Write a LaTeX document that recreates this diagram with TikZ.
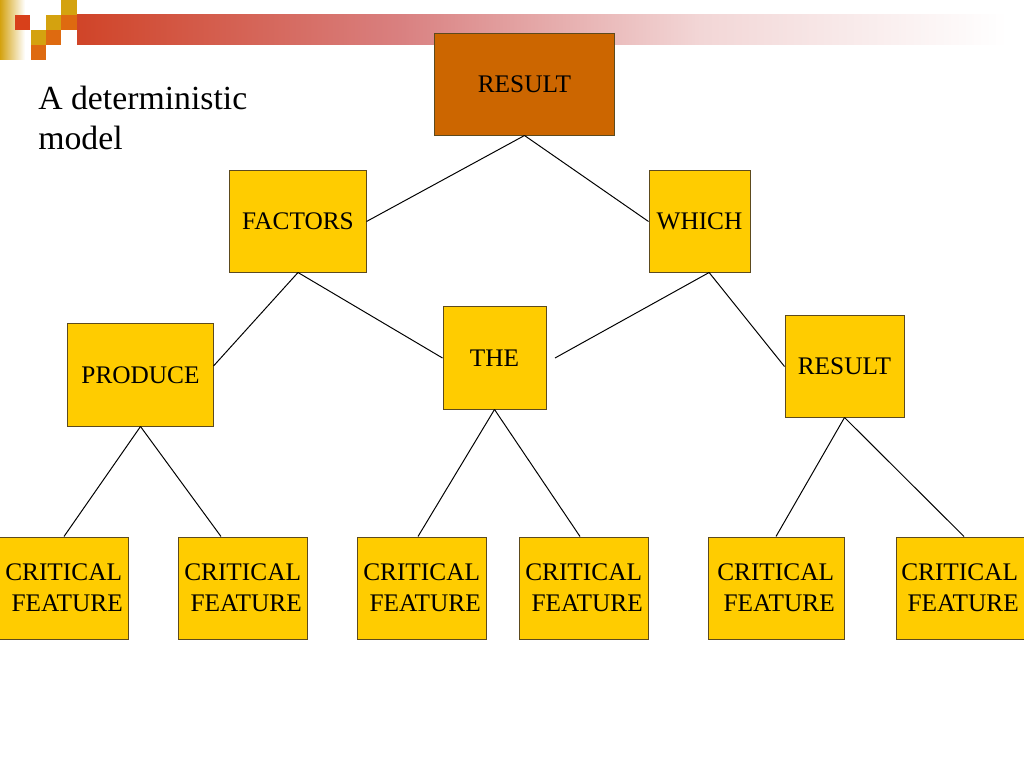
\documentclass[tikz,border=0pt]{standalone}
\usepackage{fontspec}
\setmainfont{Liberation Serif}
\usepackage{tikz}

\definecolor{boxyellow}{HTML}{FFCC00}
\definecolor{boxorange}{HTML}{CC6600}
\definecolor{boxedge}{HTML}{5C4A1E}
\definecolor{decogold}{HTML}{D4A20F}
\definecolor{decoorange}{HTML}{DE6A10}
\definecolor{decored}{HTML}{D8401A}
\definecolor{barred}{HTML}{D04428}
\definecolor{barpink}{HTML}{D98080}
\definecolor{barlight}{HTML}{F2D6D6}

\tikzset{
  wordbox/.style={draw=boxedge, line width=0.7pt, fill=boxyellow, inner sep=0pt,
    minimum height=2.525cm, font=\fontsize{18}{21.8}\selectfont},
  featbox/.style={wordbox, minimum width=3.2cm, minimum height=2.55cm, align=left},
  link/.style={draw=black, line width=0.7pt}
}

\begin{document}
\begin{tikzpicture}[x=0.025cm, y=-0.025cm]
\useasboundingbox (0,0) rectangle (1024,768);

% corner decoration
\shade[left color=decogold, right color=white] (0,0) rectangle (25,60);
\shade[left color=barred, right color=barpink] (77,15) rectangle (400,45);
\shade[left color=barpink, right color=barlight] (400,15) rectangle (700,45);
\shade[left color=barlight, right color=white] (700,15) rectangle (1007,45);
\fill[decored] (15,15) rectangle (30,30);
\fill[decogold] (61,0) rectangle (77,15);
\fill[decogold] (46,15) rectangle (61,30);
\fill[decoorange] (61,15) rectangle (77,30);
\fill[decogold] (31,30) rectangle (46,45);
\fill[decoorange] (46,30) rectangle (61,45);
\fill[decoorange] (31,45) rectangle (46,60);

\node[anchor=west, align=left, inner sep=0pt, font=\fontsize{24}{29}\selectfont]
  (title) at (38,118) {A deterministic\\model};

% tree
\node[wordbox, fill=boxorange, minimum width=4.475cm] (result) at (524.5,84.5) {\raisebox{-2pt}{RESULT}};
\node[wordbox, minimum width=3.4cm] (factors) at (298,221.5) {FACTORS};
\node[wordbox, minimum width=2.525cm] (which) at (699.5,221.5) {WHICH};
\node[wordbox, minimum width=3.625cm, minimum height=2.55cm] (produce) at (140.5,375) {PRODUCE};
\node[wordbox, minimum width=2.575cm, minimum height=2.55cm] (the) at (494.5,358) {THE};
\node[wordbox, minimum width=2.975cm] (resultb) at (844.5,366.5) {RESULT};

\node[featbox] (cfa) at (64,588) {CRITICAL\\\mbox{} FEATURE};
\node[featbox] (cfb) at (243,588) {CRITICAL\\\mbox{} FEATURE};
\node[featbox] (cfc) at (422,588) {CRITICAL\\\mbox{} FEATURE};
\node[featbox] (cfd) at (584,588) {CRITICAL\\\mbox{} FEATURE};
\node[featbox, minimum width=3.4cm] (cfe) at (776,588) {CRITICAL\\\mbox{} FEATURE};
\node[featbox] (cff) at (960,588) {CRITICAL\\\mbox{} FEATURE};

\coordinate (theend) at (555,358);

\draw[link] (result.south) -- (factors.east);
\draw[link] (result.south) -- (which.west);
\draw[link] (factors.south) -- ([yshift=0.225cm]produce.east);
\draw[link] (factors.south) -- (the.west);
\draw[link] ([xshift=0.24cm]which.south) -- (theend);
\draw[link] ([xshift=0.24cm]which.south) -- (resultb.west);
\draw[link] (produce.south) -- (cfa.north);
\draw[link] (produce.south) -- ([xshift=-0.55cm]cfb.north);
\draw[link] (the.south) -- ([xshift=-0.1cm]cfc.north);
\draw[link] (the.south) -- ([xshift=-0.1cm]cfd.north);
\draw[link] (resultb.south) -- (cfe.north);
\draw[link] (resultb.south) -- ([xshift=0.1cm]cff.north);
\end{tikzpicture}
\end{document}
